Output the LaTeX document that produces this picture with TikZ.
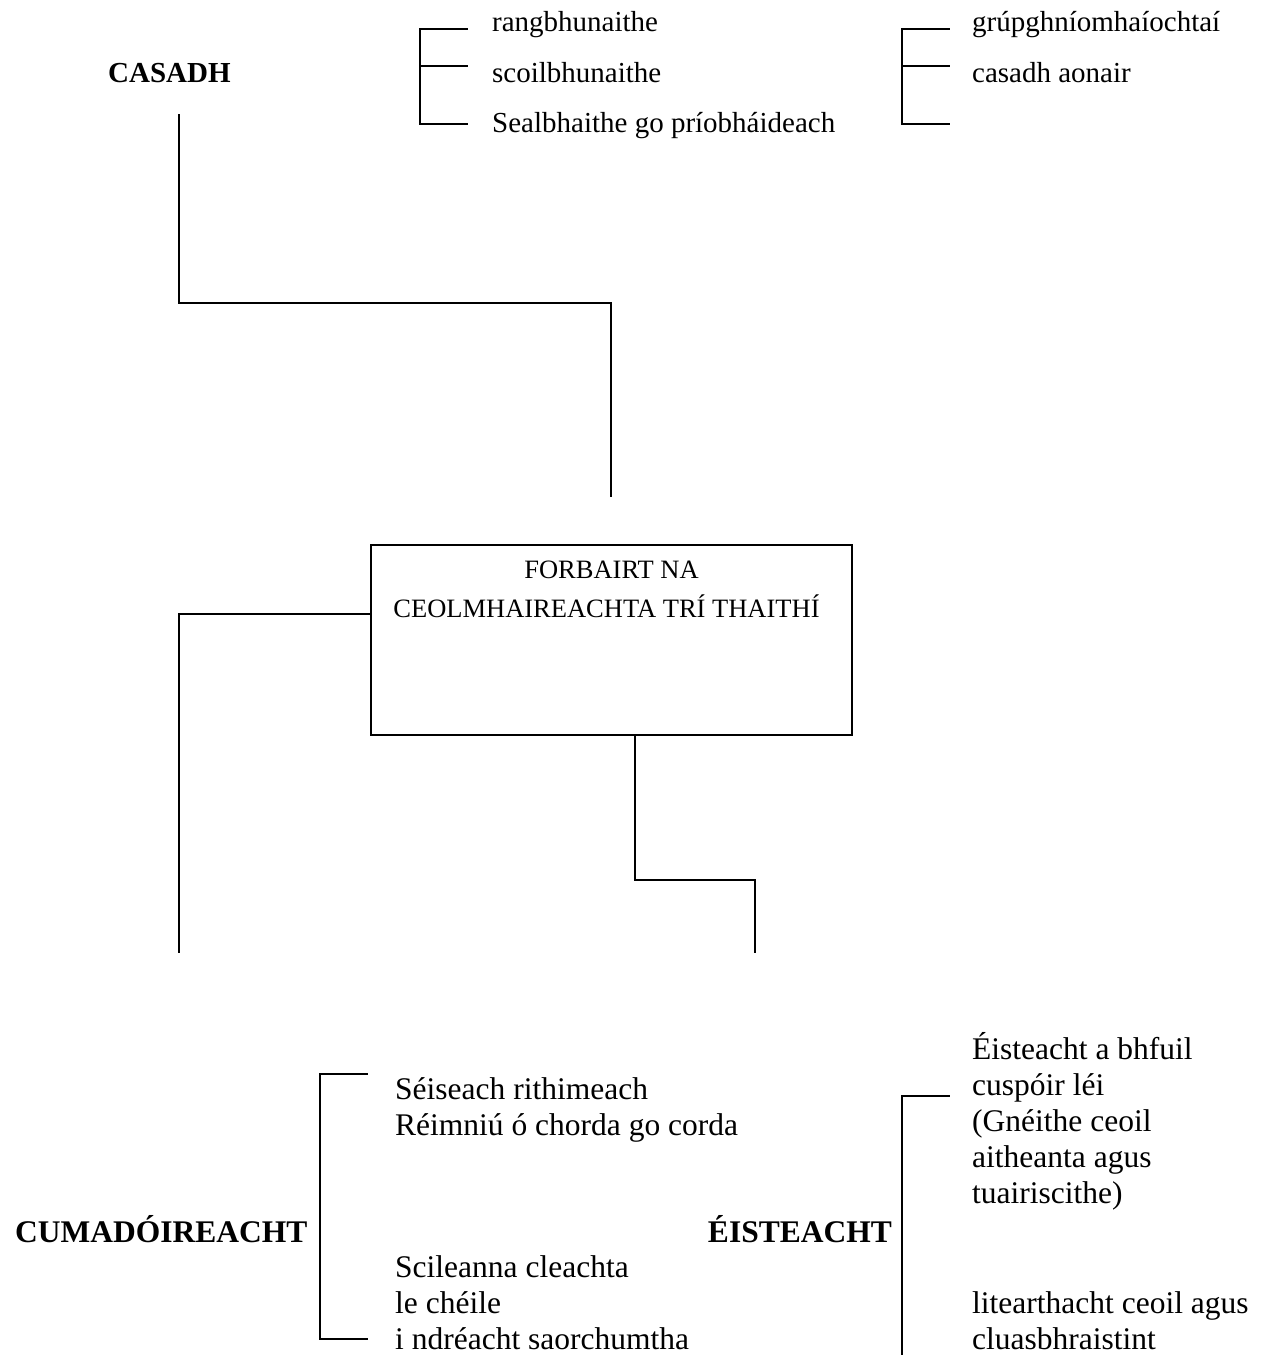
\documentclass[tikz,border=0pt]{standalone}
\usepackage{fontspec}
\setmainfont{Liberation Serif}
\usetikzlibrary{calc}
\tikzset{
  conn/.style={line width=2pt, line cap=rect},
  toptxt/.style={anchor=base west, inner sep=0pt, font=\fontsize{29}{34}\selectfont},
  bottxt/.style={anchor=base west, inner sep=0pt, font=\fontsize{31.5}{36}\selectfont},
  headtop/.style={anchor=base west, inner sep=0pt, font=\fontsize{29}{34}\selectfont\bfseries},
  headbot/.style={inner sep=0pt, font=\fontsize{31.5}{36}\selectfont\bfseries},
  boxtxt/.style={anchor=base, inner sep=0pt, font=\fontsize{26.5}{30}\selectfont},
  mainbox/.style={draw, line width=2pt, minimum width=481pt, minimum height=190pt, inner sep=0pt}
}
\begin{document}
\begin{tikzpicture}[x=1pt,y=-1pt]
\useasboundingbox (0,0) rectangle (1263,1355);

% top-left group
\node[toptxt] (t1) at (492,31) {rangbhunaithe};
\node[toptxt] (t2) at (492,82) {scoilbhunaithe};
\node[toptxt] (t3) at (492,132) {Sealbhaithe go príobháideach};
\coordinate (b1a) at (420,29);
\coordinate (b1b) at (420,66);
\coordinate (b1c) at (420,124);
\draw[conn] (467,29) -- (b1a) -- (b1c) -- (467,124);
\draw[conn] (b1b) -- (467,66);

% top-right group
\node[toptxt] (u1) at (972,31) {grúpghníomhaíochtaí};
\node[toptxt] (u2) at (972,82) {casadh aonair};
\coordinate (b2a) at (902,29);
\coordinate (b2b) at (902,66);
\coordinate (b2c) at (902,124);
\draw[conn] (949,29) -- (b2a) -- (b2c) -- (949,124);
\draw[conn] (b2b) -- (949,66);

% CASADH
\node[headtop] (casadh) at (108,82) {CASADH};
\coordinate (c1) at (179,115);
\coordinate (c2) at (611,496);

% central box
\node[mainbox] (box) at (611.5,640) {};
\node[boxtxt] (bx1) at (611.5,578) {FORBAIRT NA};
\node[boxtxt] (bx2) at (606.5,617) {CEOLMHAIREACHTA TRÍ THAITHÍ};

\draw[conn] (c1) |- (c2 |- 0,303) -- (c2);

\coordinate (l1) at ($(box.north west)+(0,70)$);
\coordinate (l2) at (179,952);
\draw[conn] (l1) -| (l2);

\coordinate (r1) at (box.south -| 635,0);
\coordinate (r2) at (755,952);
\draw[conn] (r1) -- (635,880) -| (r2);

% bottom-left group
\node[headbot, anchor=base west] (cum) at (15,1242) {CUMADÓIREACHT};
\draw[conn] (367,1074) -- (320,1074) -- (320,1339) -- (367,1339);
\node[bottxt] (s1) at (395,1099) {Séiseach rithimeach};
\node[bottxt] (s2) at (395,1135) {Réimniú ó chorda go corda};
\node[bottxt] (s3) at (395,1277) {Scileanna cleachta};
\node[bottxt] (s4) at (395,1313) {le chéile};
\node[bottxt] (s5) at (395,1349) {i ndréacht saorchumtha};

% bottom-right group
\node[headbot, anchor=base east] (eist) at (892,1242) {ÉISTEACHT};
\draw[conn] (949,1096) -- (902,1096) -- (902,1360);
\node[bottxt] (e1) at (972,1059) {Éisteacht a bhfuil};
\node[bottxt] (e2) at (972,1095) {cuspóir léi};
\node[bottxt] (e3) at (972,1131) {(Gnéithe ceoil};
\node[bottxt] (e4) at (972,1167) {aitheanta agus};
\node[bottxt] (e5) at (972,1203) {tuairiscithe)};
\node[bottxt] (e6) at (972,1313) {litearthacht ceoil agus};
\node[bottxt] (e7) at (972,1349) {cluasbhraistint};
\end{tikzpicture}
\end{document}
